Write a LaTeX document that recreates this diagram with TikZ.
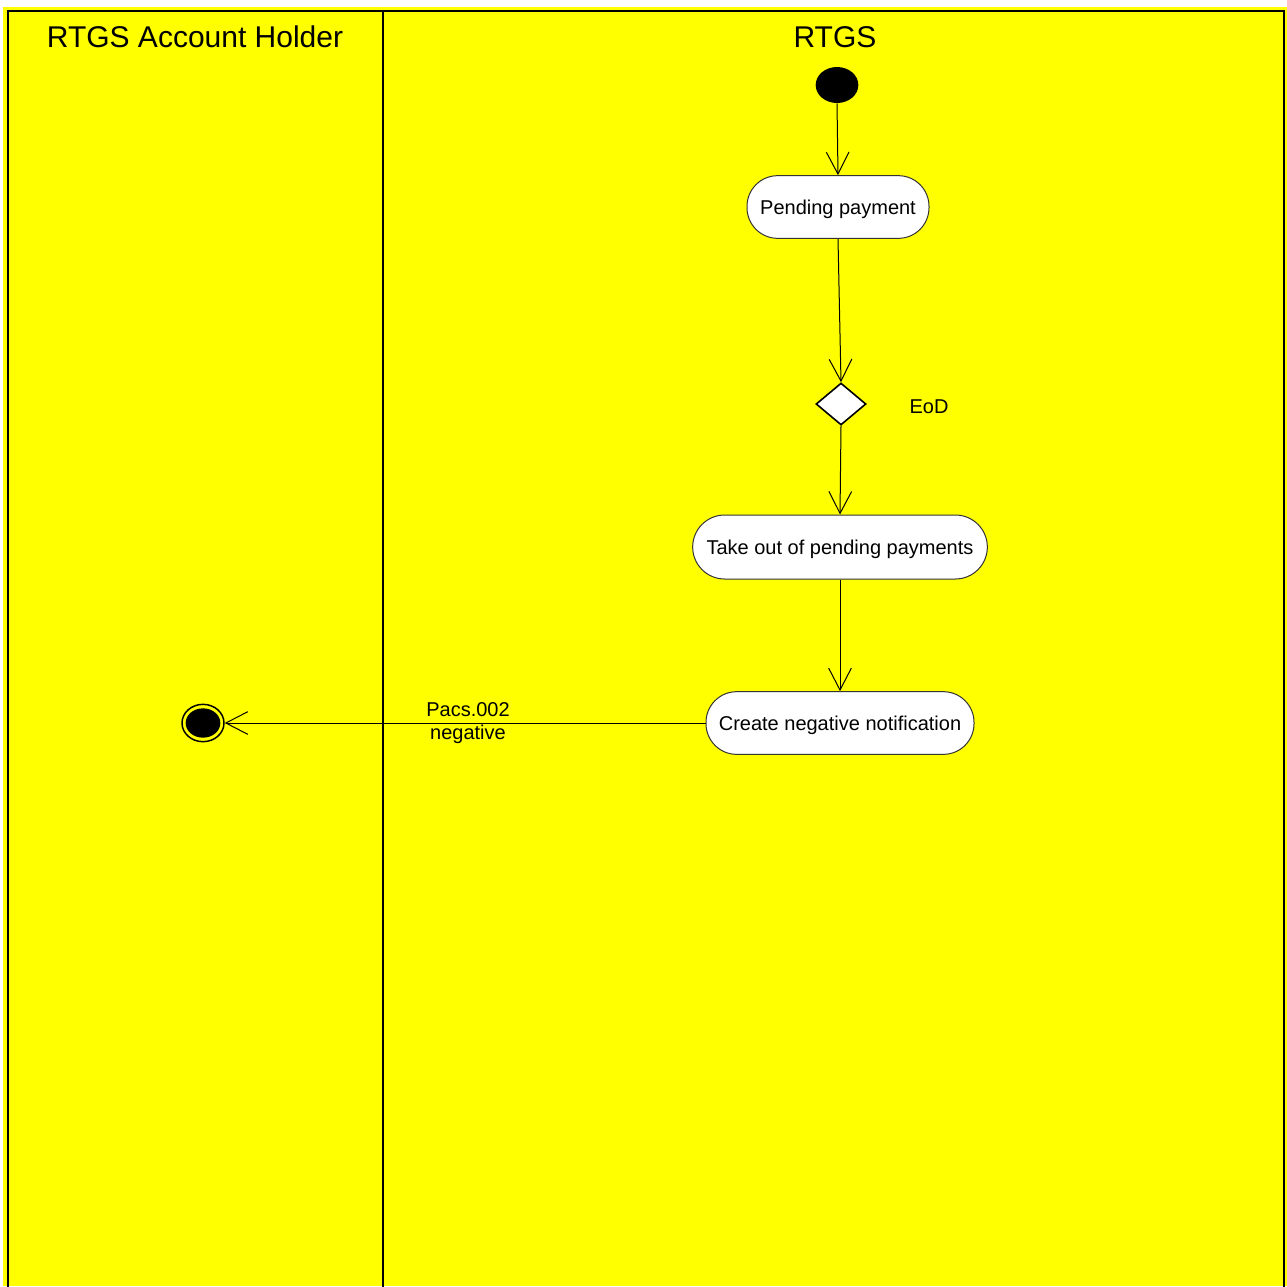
\documentclass[tikz,border=0pt]{standalone}
\usepackage{fontspec}
\setmainfont{Liberation Sans}
\usetikzlibrary{arrows.meta,shapes.geometric}
\definecolor{laneyellow}{RGB}{255,255,0}
\begin{document}
\begin{tikzpicture}[x=0.75pt,y=-0.75pt,
  every node/.style={font=\fontsize{15pt}{17.3pt}\selectfont, inner sep=0pt},
  frameline/.style={line width=1.9pt, black},
  action/.style={draw=black!80, line width=0.75pt, fill=white, rectangle, rounded corners=23pt, minimum height=47pt, text height=11pt, text depth=0pt},
  flow/.style={draw=black, line width=0.75pt, -{Straight Barb[length=16.5pt,width=17pt,line width=0.75pt]}},
  title/.style={font=\fontsize{22.5pt}{27pt}\selectfont, anchor=base}
]
\useasboundingbox (0,0) rectangle (1287,1286);
\fill[laneyellow] (3,7) rectangle (1287,1286);
\draw[frameline] (8,1290) -- (8,11) -- (1284,11) -- (1284,1290);
\draw[frameline] (383,11) -- (383,1290);

\node[title] (h1) at (195,47) {RTGS Account Holder};
\node[title] (h2) at (835,47) {RTGS};

\node[ellipse, fill=black, minimum width=32pt, minimum height=27pt] (start) at (837,85) {};
\node[action, minimum width=136.5pt] (pending) at (838,207) {Pending payment};
\node[diamond, draw=black, line width=1.2pt, fill=white, minimum width=37.5pt, minimum height=31.5pt, aspect=1.2] (dec) at (841,404) {};
\node[anchor=base] (eod) at (929,413) {EoD};
\node[action, minimum width=221pt, minimum height=48pt, rounded corners=24pt] (takeout) at (840,547) {Take out of pending payments};
\node[action, minimum width=201pt] (create) at (840,723) {Create negative notification};
\node[ellipse, draw=black, line width=1.1pt, minimum width=31.5pt, minimum height=28pt] (end) at (203,723) {};
\fill[black] (end.center) ellipse [x radius=13pt, y radius=11pt];

\draw[flow] (start.south) -- (pending.north);
\draw[flow] (pending.south) -- (dec.north);
\draw[flow] (dec.south) -- (takeout.north);
\draw[flow] (takeout.south) -- (create.north);
\draw[flow] (create.west) -- (end.east);
\node[align=center] (lbl) at (468,723) {Pacs.002\\negative};
\end{tikzpicture}
\end{document}
